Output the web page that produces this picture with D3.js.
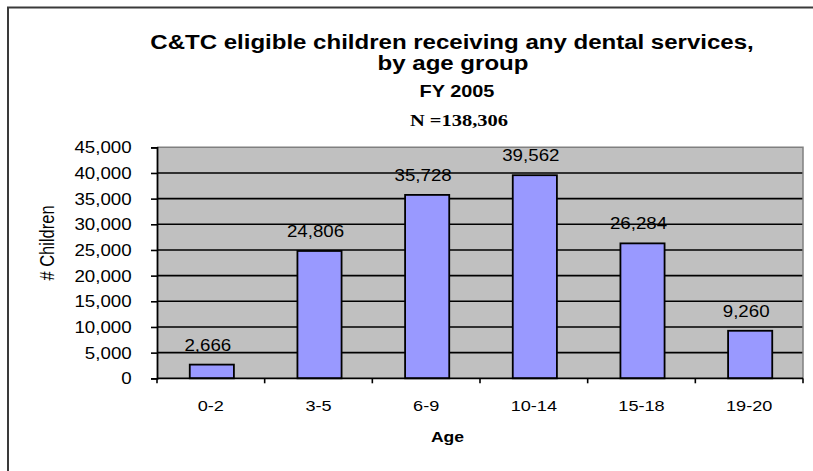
<!DOCTYPE html>
<html>
<head>
<meta charset="utf-8">
<script src="https://cdn.jsdelivr.net/npm/d3@7"></script>
<style>
  html, body { margin: 0; padding: 0; background: #fff; }
  svg { display: block; }
  text { font-family: Arial, "Liberation Sans", sans-serif; fill: #000; }
</style>
</head>
<body>
<svg id="chart" width="813" height="471"></svg>
<script>
// Age groups and number of children receiving dental services, FY 2005
const ageGroups = ["0-2", "3-5", "6-9", "10-14", "15-18", "19-20"];
const children = [2666, 24806, 35728, 39562, 26284, 9260];
const yTicks = [0, 5000, 10000, 15000, 20000, 25000, 30000, 35000, 40000, 45000];
const titleLines = ["C&TC eligible children receiving any dental services,", "by age group"];
const subTitle = "FY 2005";
const totalLabel = "N =138,306";

const W = 813, H = 471;
const SX = 1.17; // horizontal stretch applied to every text glyph
const plot = { left: 157, right: 803, top: 147.3, bottom: 378.3 };

const svg = d3.select("#chart");
const fmt = d3.format(",");

// outer frame (runs past the right and bottom edges)
svg.append("rect")
  .attr("x", 8).attr("y", 7.5).attr("width", 900).attr("height", 600)
  .attr("fill", "none").attr("stroke", "#3a3a3a").attr("stroke-width", 2);

// text helper: places text at (x,y) and stretches it horizontally
function label(x, y, str, opts = {}) {
  const sx = opts.sx || SX;
  const g = svg.append("g")
    .attr("transform", `translate(${x},${y}) scale(${sx},1)` + (opts.rotate ? ` rotate(${opts.rotate})` : ""));
  const t = g.append("text")
    .attr("text-anchor", opts.anchor || "middle")
    .style("font-size", (opts.size || 16) + "px")
    .style("font-weight", opts.bold ? "bold" : "normal")
    .text(str);
  if (opts.family) t.style("font-family", opts.family);
  if (opts.baseline) t.attr("dominant-baseline", opts.baseline);
  return t;
}

// titles
label(452, 49.3, titleLines[0], { size: 20.2, bold: true, sx: 1.19 });
label(453, 70, titleLines[1], { size: 20.2, bold: true, sx: 1.19 });
label(457, 97.3, subTitle, { size: 17, bold: true });
label(459, 126, totalLabel, { size: 17.5, bold: true, family: "'Times New Roman', 'Liberation Serif', serif" });

// scales
const x = d3.scaleBand().domain(ageGroups).range([plot.left, plot.right]).padding(0);
const y = d3.scaleLinear().domain([0, 45000]).range([plot.bottom, plot.top]);

// plot background
svg.append("rect")
  .attr("x", plot.left).attr("y", plot.top)
  .attr("width", plot.right - plot.left).attr("height", plot.bottom - plot.top)
  .attr("fill", "#c0c0c0");

// gridlines
svg.append("g").selectAll("line")
  .data(yTicks.filter(d => d > 0 && d < 45000))
  .join("line")
  .attr("x1", plot.left).attr("x2", plot.right)
  .attr("y1", d => y(d)).attr("y2", d => y(d))
  .attr("stroke", "#000").attr("stroke-width", 1.6);

// plot frame top and right
svg.append("path")
  .attr("d", `M${plot.left},${plot.top}H${plot.right}V${plot.bottom}`)
  .attr("fill", "none").attr("stroke", "#808080").attr("stroke-width", 1.5);

// bars
const barW = x.bandwidth() * 0.41;
svg.append("g").selectAll("rect")
  .data(ageGroups.map((g, i) => ({ g, v: children[i] })))
  .join("rect")
  .attr("x", d => x(d.g) + x.bandwidth() / 2 - barW / 2 + 1)
  .attr("y", d => y(d.v))
  .attr("width", barW)
  .attr("height", d => y(0) - y(d.v))
  .attr("fill", "#9999ff")
  .attr("stroke", "#000").attr("stroke-width", 1.8);

// value labels
ageGroups.forEach((g, i) => {
  label(x(g) + x.bandwidth() / 2 - 3, y(children[i]) - 14, fmt(children[i]), { size: 16 });
});

// y axis
const yAxis = svg.append("g")
  .attr("transform", `translate(${plot.left},0)`)
  .call(d3.axisLeft(y).tickValues(yTicks).tickSize(6).tickFormat(fmt));
yAxis.select(".domain").attr("stroke", "#000").attr("stroke-width", 1.8);
yAxis.selectAll(".tick line").attr("stroke", "#000").attr("stroke-width", 1.6);
yAxis.selectAll(".tick text")
  .attr("x", null).attr("dy", "0.35em")
  .attr("transform", `translate(-25.3,0) scale(${SX},1)`)
  .style("font-size", "16px").style("font-family", "Arial, 'Liberation Sans', sans-serif");

// x axis: ticks on category boundaries, labels at centres
const xAxis = svg.append("g")
  .attr("transform", `translate(0,${plot.bottom})`)
  .call(d3.axisBottom(x).tickSize(0).tickPadding(0));
xAxis.select(".domain").remove();
xAxis.append("line")
  .attr("x1", plot.left).attr("x2", plot.right)
  .attr("stroke", "#000").attr("stroke-width", 1.8);
xAxis.selectAll(".tick text")
  .attr("y", null).attr("dy", null)
  .attr("transform", `translate(0,32.4) scale(${SX},1)`)
  .style("font-size", "15.5px").style("font-family", "Arial, 'Liberation Sans', sans-serif");
const bounds = ageGroups.map(g => x(g)).concat([x(ageGroups[ageGroups.length - 1]) + x.bandwidth()]);
xAxis.selectAll(".boundary")
  .data(bounds).join("line")
  .attr("class", "boundary")
  .attr("x1", d => d).attr("x2", d => d)
  .attr("y1", 0).attr("y2", 5)
  .attr("stroke", "#000").attr("stroke-width", 1.6);

// axis titles
label(447.5, 441.7, "Age", { size: 15, bold: true });
label(48, 243, "# Children", { size: 16.5, rotate: -90, baseline: "central" });
</script>
</body>
</html>
